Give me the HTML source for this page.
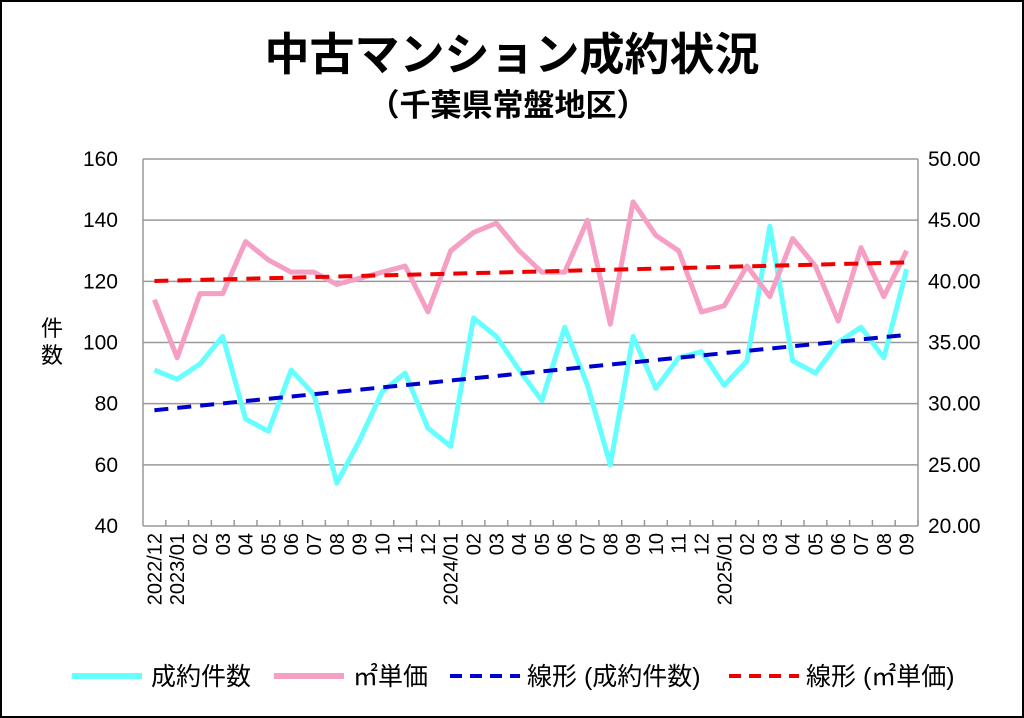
<!DOCTYPE html>
<html><head><meta charset="utf-8"><style>
body{margin:0;background:#fff;}
svg{display:block;font-family:"Liberation Sans","Noto Sans CJK JP",sans-serif;}
</style></head><body>
<svg id="chart" width="1024" height="718" viewBox="0 0 1024 718">
<rect x="1" y="1" width="1022" height="716" fill="#fff" stroke="#000" stroke-width="2"/>
<text x="512" y="70" text-anchor="middle" font-size="45" font-weight="bold">中古マンション成約状況</text>
<text x="508" y="116" text-anchor="middle" font-size="31" font-weight="bold">（千葉県常盤地区）</text>
<text x="52" y="336" text-anchor="middle" font-size="22"><tspan x="52">件</tspan><tspan x="52" dy="27">数</tspan></text>
<g id="grid"></g><g id="axes"></g><g id="marks"></g>
<g>
<line x1="72" y1="676" x2="142" y2="676" stroke="#66ffff" stroke-width="6"/>
<text x="151" y="685" font-size="25">成約件数</text>
<line x1="274" y1="676" x2="344" y2="676" stroke="#f59fc4" stroke-width="6"/>
<text x="353" y="685" font-size="25">㎡単価</text>
<line x1="450" y1="676" x2="520" y2="676" stroke="#0000cc" stroke-width="4" stroke-dasharray="12,8"/>
<text x="527" y="685" font-size="25">線形 (成約件数)</text>
<line x1="729" y1="676" x2="799" y2="676" stroke="#ee0000" stroke-width="4" stroke-dasharray="12,8"/>
<text x="806" y="685" font-size="25">線形 (㎡単価)</text>
</g>
</svg>
<script>
const categories=["2022/12","2023/01","02","03","04","05","06","07","08","09","10","11","12","2024/01","02","03","04","05","06","07","08","09","10","11","12","2025/01","02","03","04","05","06","07","08","09"];
const countValues=[91,88,93,102,75,71,91,83,54,68,84,90,72,66,108,102,91,81,105,86,60,102,85,95,97,86,94,138,94,90,100,105,95,124];
const priceValues=[38.5,33.75,39,39,43.25,41.75,40.75,40.75,39.75,40.25,40.75,41.25,37.5,42.5,44,44.75,42.5,40.75,40.75,45,36.5,46.5,43.75,42.5,37.5,38,41.25,38.75,43.5,41.25,36.75,42.75,38.75,42.5];
const leftTicks=["40","60","80","100","120","140","160"];
const rightTicks=["20.00","25.00","30.00","35.00","40.00","45.00","50.00"];
const NS="http://www.w3.org/2000/svg";
const X0=143,X1=918,Y0=526,Y1=159;
const n=categories.length,step=(X1-X0)/n;
const x=i=>X0+step*(i+0.5);
const yL=v=>Y0-(v-40)/120*(Y0-Y1);
const yR=v=>Y0-(v-20)/30*(Y0-Y1);
function mk(t,a,p){const e=document.createElementNS(NS,t);for(const k in a)e.setAttribute(k,a[k]);p.appendChild(e);return e;}
const grid=document.getElementById('grid'),axes=document.getElementById('axes'),marks=document.getElementById('marks');
leftTicks.forEach((t,i)=>{const v=+t,y=yL(v);
 const g=mk('line',{x1:X0,x2:X1,y1:y,y2:y,stroke:'#999','stroke-width':1.5},grid);
 
 
 const l=mk('text',{x:118,y:y+7,'text-anchor':'end','font-size':21},axes);l.textContent=t;
 
 
});
rightTicks.forEach(t=>{const y=yR(+t);
 const l=mk('text',{x:928,y:y+7,'font-size':21},axes);l.textContent=t;
 
 
});
let a=mk('line',{x1:X0,x2:X0,y1:Y1,y2:Y0,stroke:'#999','stroke-width':1.5},axes);


a=mk('line',{x1:X1,x2:X1,y1:Y1,y2:Y0,stroke:'#999','stroke-width':1.5},axes);


categories.forEach((c,i)=>{
 const tk=mk('line',{x1:X0+step*(i+1),x2:X0+step*(i+1),y1:Y0,y2:Y0-6,stroke:'#999','stroke-width':1.5},axes);
 
 
 const l=mk('text',{x:0,y:0,'text-anchor':'end','font-size':20,transform:`translate(${x(i)+7},533) rotate(-90)`},axes);l.textContent=c;
 
 
});
function trend(vals){const m=vals.length;let sx=0,sy=0,sxy=0,sxx=0;vals.forEach((v,i)=>{sx+=i;sy+=v;sxy+=i*v;sxx+=i*i;});const b=(m*sxy-sx*sy)/(m*sxx-sx*sx);return [sy/m-b*sx/m,b];}
const cp=mk('polyline',{points:countValues.map((v,i)=>x(i)+','+yL(v)).join(' '),fill:'none',stroke:'#66ffff','stroke-width':5,'stroke-linejoin':'round'},marks);


const pp=mk('polyline',{points:priceValues.map((v,i)=>x(i)+','+yR(v)).join(' '),fill:'none',stroke:'#f59fc4','stroke-width':5,'stroke-linejoin':'round'},marks);


let [ca,cb]=trend(countValues);
const ct=mk('line',{x1:x(0),y1:yL(ca),x2:x(n-1),y2:yL(ca+cb*(n-1)),stroke:'#0000cc','stroke-width':4,'stroke-dasharray':'14,9'},marks);


let [pa,pb]=trend(priceValues);
const pt=mk('line',{x1:x(0),y1:yR(pa),x2:x(n-1),y2:yR(pa+pb*(n-1)),stroke:'#ee0000','stroke-width':4,'stroke-dasharray':'14,9'},marks);


</script>
</body></html>
